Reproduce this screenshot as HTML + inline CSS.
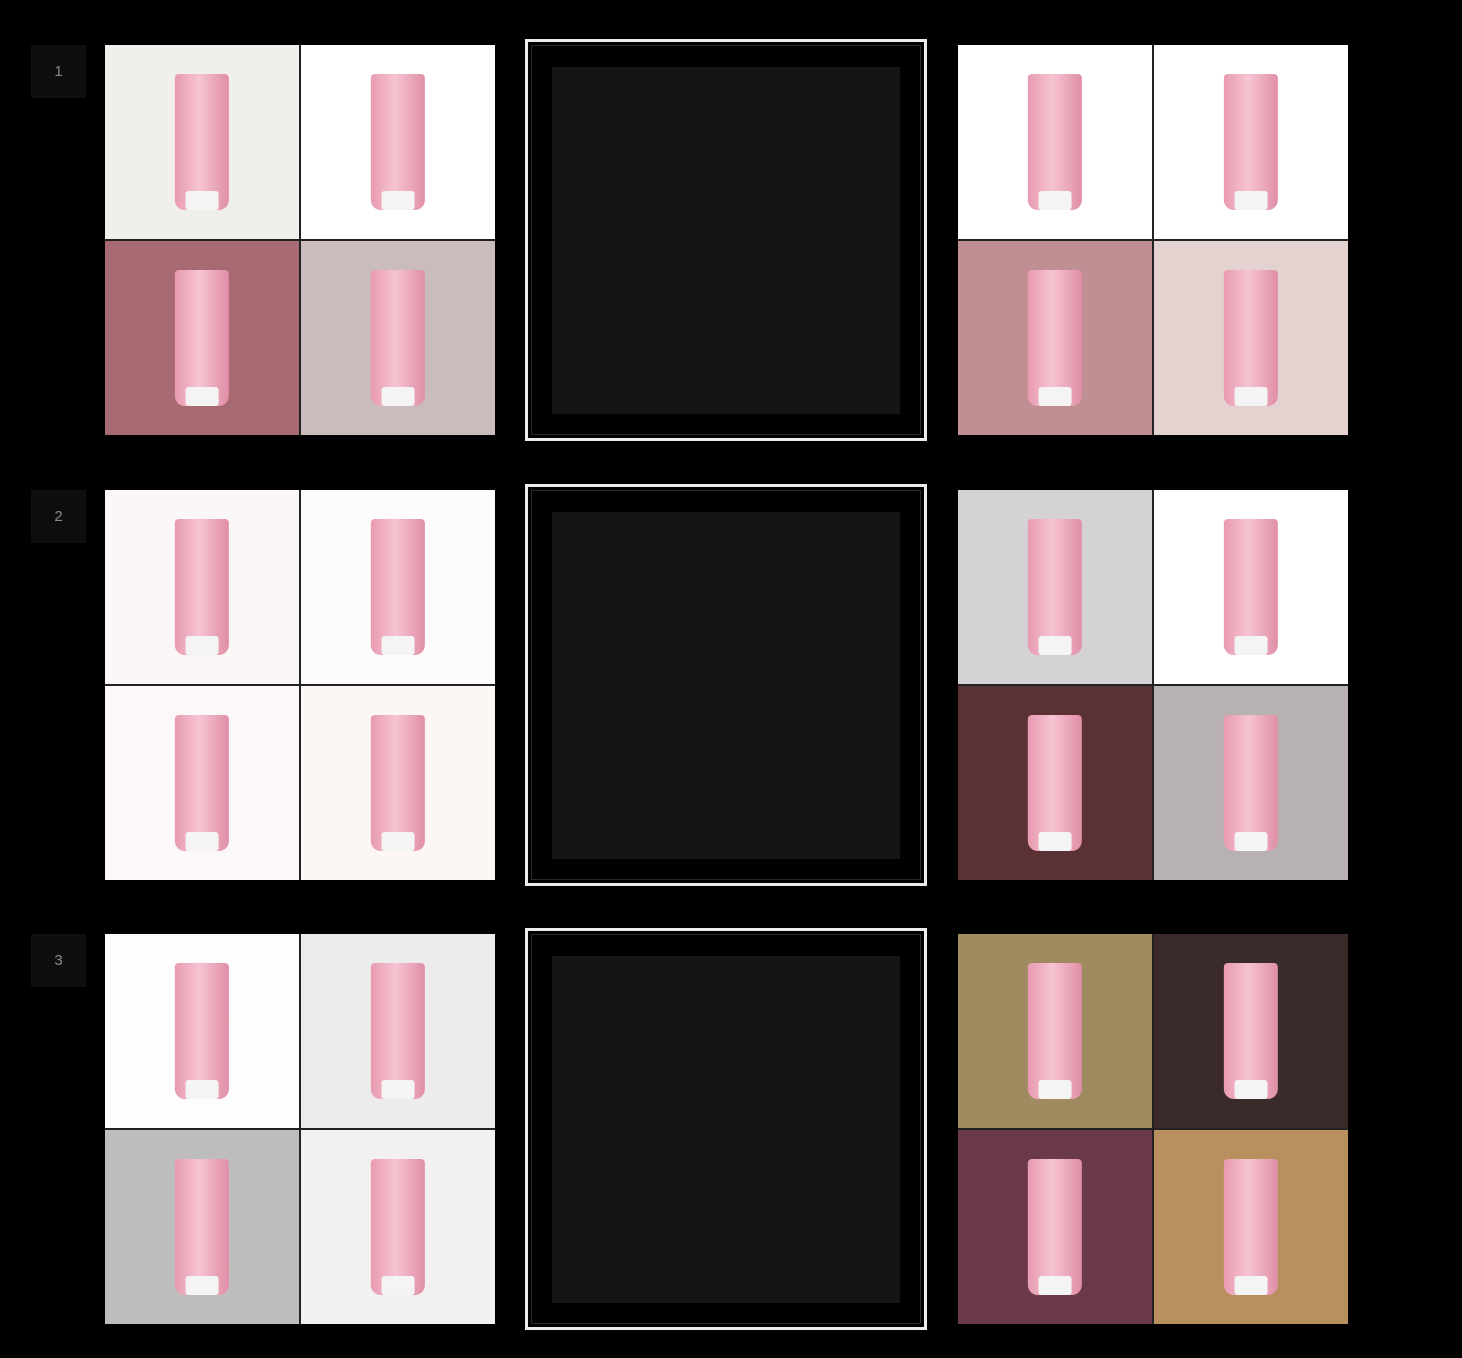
<!DOCTYPE html>
<html><head><meta charset="utf-8"><style>
body{margin:0;background:#000;width:1462px;height:1358px;position:relative;overflow:hidden;font-family:"Liberation Sans",sans-serif}
.lbl{position:absolute;left:31px;width:55px;height:53px;background:#0e0e0e;color:#8a8a8a;font-size:15px;display:flex;align-items:center;justify-content:center}
.grid{position:absolute;width:390px;height:390px;display:grid;grid-template-columns:194px 194px;grid-template-rows:194px 194px;gap:2px;background:#222}
.cell{position:relative;overflow:hidden}
.tube{position:absolute;left:50%;top:15%;width:28%;height:70%;transform:translateX(-50%);border-radius:4px 4px 10px 10px;background:linear-gradient(90deg,#e89ab0,#f6c4d2 45%,#e08ea6)}
.cap{position:absolute;left:50%;bottom:0;width:60%;height:14%;transform:translateX(-50%);background:#f4f4f4;border-radius:3px}
.mid{position:absolute;left:525px;width:396px;height:396px;border:3px solid #ececec;background:#000}
.mid .ln{position:absolute;left:3px;top:3px;right:3px;bottom:3px;border:1px solid #2a2a2a}
.mid .in{position:absolute;left:24px;top:25px;width:348px;height:347px;background:#151515}
</style></head><body>
<div id="root"></div>
<script>
const rowsY=[45,490,934];
const midY=[39,484,928];
const leftCols=[["#f0efec","#ffffff","#a86a72","#cbbcbc"],["#fbf7f7","#fdfbfb","#fcf8f9","#fcf6f4"],["#fdfdfd","#ececec","#bdbdbd","#f2f0f0"]];
const rightCols=[["#ffffff","#ffffff","#c08f94","#e4d2d1"],["#d4d2d4","#ffffff","#5a3236","#b7b1b1"],["#a08a60","#3a2a2a","#6a3a4a","#b89060"]];
const root=document.getElementById('root');
function grid(x,y,cols,name){
  const g=document.createElement('div');g.className='grid';
  
  
  g.style.left=x+'px';g.style.top=y+'px';
  cols.forEach((c,i)=>{
    const d=document.createElement('div');d.className='cell';
    
    
    d.style.background=c;
    const t=document.createElement('div');t.className='tube';
    
    
    const cp=document.createElement('div');cp.className='cap';
    
    
    t.appendChild(cp);d.appendChild(t);g.appendChild(d);
  });
  root.appendChild(g);
}
rowsY.forEach((y,r)=>{
  const l=document.createElement('div');l.className='lbl';l.textContent=String(r+1);
  
  
  l.style.top=y+'px';root.appendChild(l);
  grid(105,y,leftCols[r],'left-image-grid');
  grid(958,y,rightCols[r],'right-image-grid');
  const m=document.createElement('div');m.className='mid';
  
  
  m.style.top=midY[r]+'px';
  m.innerHTML='<div class="ln"></div><div class="in"></div>';
  root.appendChild(m);
});
</script>
</body></html>
